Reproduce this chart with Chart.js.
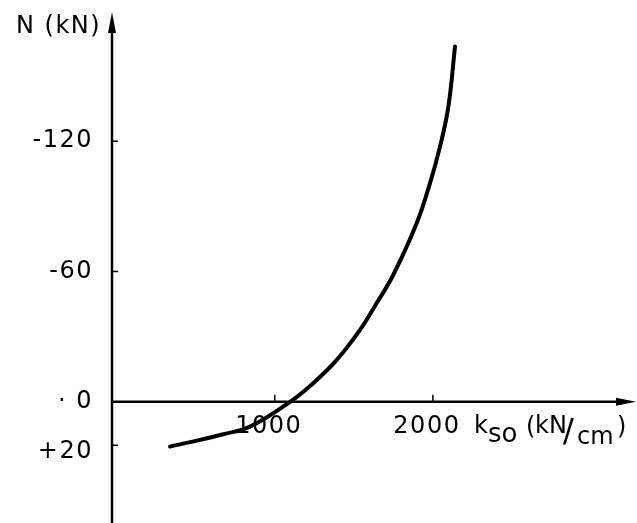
<!DOCTYPE html>
<html>
<head>
<meta charset="utf-8">
<script src="https://cdn.jsdelivr.net/npm/chart.js@4.4.1/dist/chart.umd.min.js"></script>
<style>
    body { margin: 0; background: #fff; }
    #wrap { width: 637px; height: 523px; }
</style>
</head>
<body>
<div id="wrap"><canvas id="nChart" width="637" height="523"></canvas></div>
<script>
// curve: k_so (kN/cm) against N (kN)
const kValues = [337, 527, 674, 843, 1096, 1243, 1392, 1539, 1644, 1750, 1898, 1982, 2045, 2098, 2140];
const nValues = [20.6, 17.5, 14.9, 11.4, 0, -8.6, -19.3, -33.1, -45.4, -58.5, -82.3, -100.7, -117.5, -135.9, -163.6];

const xTicks = [1000, 2000];
const xTickLabels = ['1000', '2000'];
const yTicks = [-120, -60, 0, 20];
const yTickLabels = ['-120', '-60', '· 0', '+20'];

const FONT = '"DejaVu Sans", sans-serif';

// axes through the origin with arrows, like the drawing
const axesPlugin = {
    id: 'axesPlugin',
    afterDatasetsDraw(chart) {
        const ctx = chart.ctx;
        const xs = chart.scales.x;
        const ys = chart.scales.y;
        const area = chart.chartArea;
        const x0 = xs.getPixelForValue(xs.min);
        const y0 = ys.getPixelForValue(0);

        ctx.save();
        ctx.strokeStyle = '#000';
        ctx.fillStyle = '#000';
        ctx.lineWidth = 2.5;

        // y axis
        ctx.beginPath();
        ctx.moveTo(x0, 523);
        ctx.lineTo(x0, area.top + 8);
        ctx.stroke();
        ctx.beginPath();
        ctx.moveTo(x0, area.top - 1);
        ctx.lineTo(x0 - 4, area.top + 20);
        ctx.lineTo(x0 + 4, area.top + 20);
        ctx.closePath();
        ctx.fill();

        // x axis
        ctx.beginPath();
        ctx.moveTo(x0, y0);
        ctx.lineTo(area.right - 8, y0);
        ctx.stroke();
        ctx.beginPath();
        ctx.moveTo(area.right, y0);
        ctx.lineTo(area.right - 20, y0 - 4);
        ctx.lineTo(area.right - 20, y0 + 4);
        ctx.closePath();
        ctx.fill();

        // tick marks point inwards
        ctx.lineWidth = 1.5;
        xTicks.forEach(v => {
            const px = xs.getPixelForValue(v);
            ctx.beginPath();
            ctx.moveTo(px, y0);
            ctx.lineTo(px, y0 - 7);
            ctx.stroke();
        });
        yTicks.forEach(v => {
            const py = ys.getPixelForValue(v);
            ctx.beginPath();
            ctx.moveTo(x0, py);
            ctx.lineTo(x0 + 6, py);
            ctx.stroke();
        });

        // tick labels, typewriter-ish spacing
        ctx.letterSpacing = '1.5px';
        ctx.font = '24px ' + FONT;
        ctx.textBaseline = 'middle';
        ctx.textAlign = 'right';
        yTicks.forEach((v, i) => {
            const py = ys.getPixelForValue(v) + (v > 0 ? 6 : 0);
            ctx.fillText(yTickLabels[i], x0 - 19, py);
        });
        ctx.textAlign = 'center';
        xTicks.forEach((v, i) => {
            ctx.fillText(xTickLabels[i], xs.getPixelForValue(v) - 6, y0 + 25);
        });

        // axis titles
        ctx.textAlign = 'left';
        ctx.fillText('N (kN)', 16, 27);
        ctx.letterSpacing = '0px';
        ctx.fillText('k', 474, y0 + 25);
        ctx.font = '26px ' + FONT;
        ctx.fillText('so', 488, y0 + 33);
        ctx.font = '24px ' + FONT;
        ctx.fillText('(', 526, y0 + 26);
        ctx.fillText('kN', 535, y0 + 25);
        ctx.font = '32px ' + FONT;
        ctx.fillText('/', 563, y0 + 31);
        ctx.font = '24px ' + FONT;
        ctx.fillText('cm', 577, y0 + 36);
        ctx.fillText(')', 617, y0 + 26);
        ctx.restore();
    }
};

const ctx = document.getElementById('nChart').getContext('2d');
new Chart(ctx, {
    type: 'line',
    data: {
        datasets: [{
            data: kValues.map((k, i) => ({ x: k, y: nValues[i] })),
            borderColor: '#000',
            borderWidth: 4,
            pointRadius: 0,
            tension: 0.4,
            borderCapStyle: 'round',
            borderJoinStyle: 'round',
            fill: false
        }]
    },
    options: {
        responsive: false,
        animation: false,
        layout: { padding: { left: 112, right: 1, top: 13, bottom: 3 } },
        plugins: {
            legend: { display: false },
            tooltip: { enabled: false }
        },
        scales: {
            x: { type: 'linear', min: -30, max: 3285, display: false },
            y: { type: 'linear', min: -179, max: 54.4, reverse: true, display: false }
        }
    },
    plugins: [axesPlugin]
});
</script>
</body>
</html>
